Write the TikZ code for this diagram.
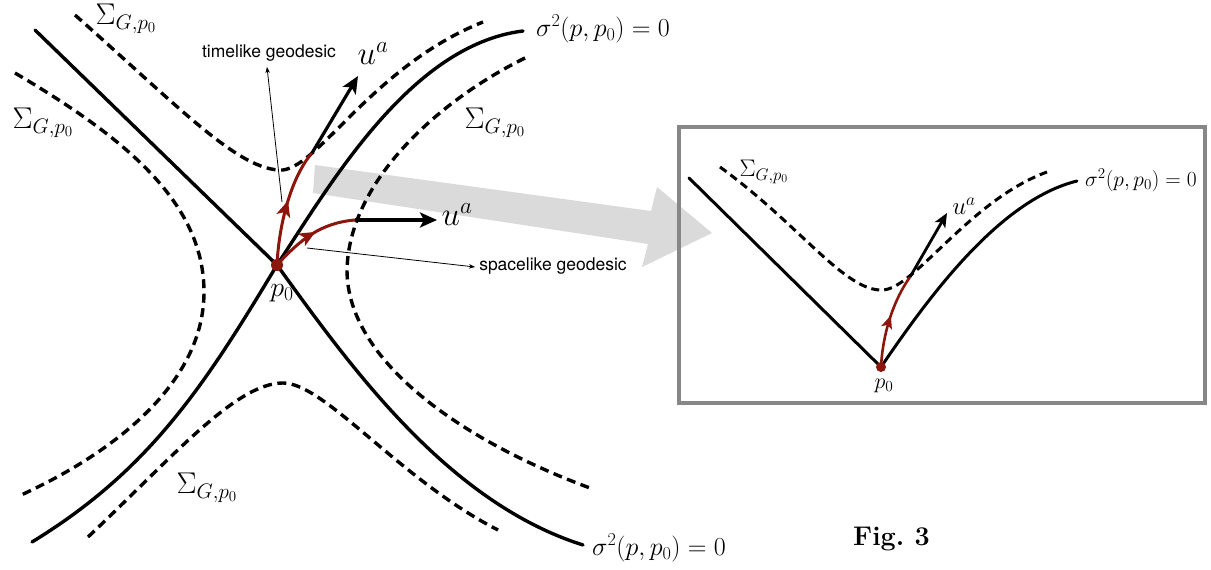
\RequirePackage{fix-cm}
\documentclass[tikz,border=0pt]{standalone}
\usepackage{fontspec}
\newfontfamily\helv{TeX Gyre Heros}
\usetikzlibrary{arrows.meta,decorations.markings}
\definecolor{dred}{RGB}{140,22,12}
\definecolor{arrgray}{RGB}{218,218,218}
\definecolor{boxgray}{RGB}{135,135,135}
\tikzset{
  solidc/.style={line width=3.4pt, line cap=round, line join=round},
  solidi/.style={line width=3pt, line cap=round, line join=round},
  dashc/.style={line width=3.4pt, dash pattern=on 9pt off 5.5pt},
  dashi/.style={line width=3pt, dash pattern=on 8pt off 5pt},
  redc/.style={color=dred, line width=3pt, postaction={decorate},
    decoration={markings, mark=at position 0.55 with {\arrow{Stealth[length=16pt,width=14pt,inset=4pt]}}}},
  redi/.style={color=dred, line width=2.6pt, postaction={decorate},
    decoration={markings, mark=at position 0.55 with {\arrow{Stealth[length=13pt,width=11pt,inset=3pt]}}}},
  uarr/.style={line width=3.2pt, -{Stealth[length=17pt,width=15pt,inset=4pt]}},
  uarri/.style={line width=2.8pt, -{Stealth[length=14pt,width=12pt,inset=3.5pt]}},
  thinarr/.style={line width=0.8pt, -{Stealth[length=6pt,width=4.5pt]}},
  dotm/.style={circle, fill=dred, inner sep=0pt, minimum size=12pt},
  doti/.style={circle, fill=dred, inner sep=0pt, minimum size=10pt},
  siglab/.style={inner sep=0pt, font=\fontsize{30}{32}\selectfont},
  sigsq/.style={inner sep=0pt, font=\fontsize{26}{28}\selectfont},
  ulab/.style={inner sep=0pt, font=\fontsize{33}{35}\selectfont},
  plab/.style={inner sep=0pt, font=\fontsize{28}{30}\selectfont},
  siglabi/.style={inner sep=0pt, font=\fontsize{24}{26}\selectfont},
  sigsqi/.style={inner sep=0pt, font=\fontsize{21.5}{23}\selectfont},
  ulabi/.style={inner sep=0pt, font=\fontsize{25}{27}\selectfont},
  plabi/.style={inner sep=0pt, font=\fontsize{22}{24}\selectfont},
  sanslab/.style={inner sep=0pt, font=\helv\fontsize{17.5}{19}\selectfont},
  figlab/.style={inner sep=0pt, font=\bfseries\fontsize{27}{29}\selectfont}
}
\begin{document}
\begin{tikzpicture}[x=1pt,y=-1pt]
\useasboundingbox (0,0) rectangle (1211,570);
% big gray arrow
\fill[arrgray] (315,165) -- (651,211) -- (657,187) -- (712,233) -- (642,267) -- (648,244) -- (313,193) -- cycle;
% inset box
\draw[boxgray, line width=4pt] (679,127) rectangle (1205,403);

% ---------- main figure ----------
\coordinate (P) at (277,265);
\coordinate (UT) at (312,153);
\coordinate (UTe) at (358,76);
\coordinate (UR) at (355,220);
\coordinate (URe) at (437,220);
% solid curves
\draw[solidc] (35,30) -- (P);
\draw[solidc] (P) .. controls (350,366) and (447,502) .. (583,545);
\draw[solidc] (P) .. controls (330,185) and (410,45) .. (523,31);
\draw[solidc] (P) .. controls (205,385) and (150,470) .. (32,542);
% dashed curves
\draw[dashc] (75,15) .. controls (180,108) and (240,172) .. (283,170) .. controls (320,165) and (375,65) .. (483,22);
\draw[dashc] (15,73) .. controls (120,135) and (204,200) .. (204,292) .. controls (204,380) and (120,450) .. (19,496);
\draw[dashc] (525,58) .. controls (440,100) and (349,180) .. (347,270) .. controls (347,360) and (460,440) .. (590,488);
\draw[dashc] (88,537) .. controls (170,460) and (235,383) .. (283,383) .. controls (325,383) and (400,480) .. (498,530);
% geodesics and vectors
\draw[redc] (P) .. controls (279,222) and (292,176) .. (UT);
\draw[redc] (P) .. controls (300,240) and (320,223) .. (UR);
\draw[uarr] (UT) -- (UTe);
\draw[uarr] (UR) -- (URe);
\node[dotm] (p0dot) at (P) {};
% labels
\node[siglab] (sigtop) at (126,19) {$\Sigma_{G,p_0}$};
\node[siglab] (sigleft) at (43,123) {$\Sigma_{G,p_0}$};
\node[siglab] (sigright) at (495,123) {$\Sigma_{G,p_0}$};
\node[siglab] (sigbot) at (207,488) {$\Sigma_{G,p_0}$};
\node[sigsq] (sqtop) at (603,29) {$\sigma^2(p,p_0)=0$};
\node[sigsq] (sqbot) at (659,548) {$\sigma^2(p,p_0)=0$};
\node[ulab] (uatop) at (373,54) {$u^a$};
\node[ulab] (uaright) at (457,215) {$u^a$};
\node[plab] (p0lab) at (282,293) {$p_0$};
\node[sanslab] (tl) at (269,53) {timelike geodesic};
\node[sanslab] (sl) at (553,266) {spacelike geodesic};
\coordinate (tls) at (282,202);
\coordinate (tle) at (267,67);
\coordinate (sls) at (307,248);
\coordinate (sle) at (475,267);
\draw[thinarr] (tls) -- (tle);
\draw[thinarr] (sls) -- (sle);

% ---------- inset ----------
\coordinate (Q) at (881,367);
\coordinate (QU) at (910,277);
\coordinate (QUe) at (947,213);
\draw[solidi] (689,178) -- (Q);
\draw[solidi] (Q) .. controls (930,295) and (1000,200) .. (1077,181);
\draw[dashi] (720,167) .. controls (800,225) and (845,292) .. (883,290) .. controls (915,288) and (970,200) .. (1047,172);
\draw[redi] (Q) .. controls (883,330) and (895,298) .. (QU);
\draw[uarri] (QU) -- (QUe);
\node[doti] (q0dot) at (Q) {};
\node[siglabi] (sigin) at (764,172) {$\Sigma_{G,p_0}$};
\node[sigsqi] (sqin) at (1141,180) {$\sigma^2(p,p_0)=0$};
\node[ulabi] (uain) at (964,206) {$u^a$};
\node[plabi] (p0in) at (884,386) {$p_0$};

% caption
\node[figlab, anchor=base west] (fig) at (853,545) {Fig.~3};
\end{tikzpicture}
\end{document}
